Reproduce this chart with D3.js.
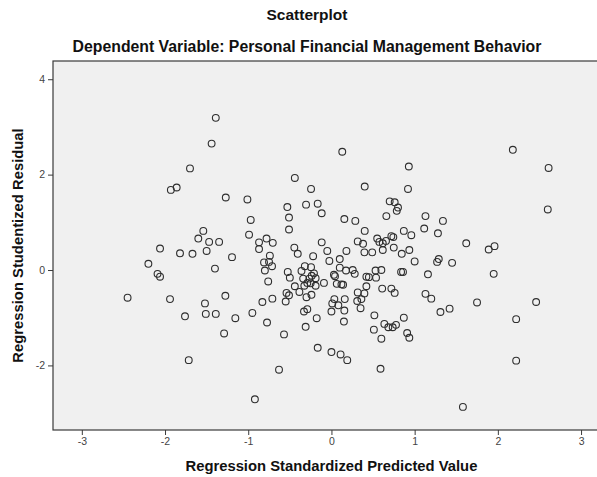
<!DOCTYPE html>
<html>
<head>
<meta charset="utf-8">
<script src="https://cdn.jsdelivr.net/npm/d3@7"></script>
<style>
  html, body { margin: 0; padding: 0; background: #ffffff; }
  svg { display: block; }
  text { font-family: Arial, "Liberation Sans", sans-serif; }
</style>
</head>
<body>
<svg id="chart" width="597" height="477"></svg>
<script>
// ---- Data ----
const title = "Scatterplot";
const subtitle = "Dependent Variable: Personal Financial Management Behavior";
const xTitle = "Regression Standardized Predicted Value";
const yTitle = "Regression Studentized Residual";
const xTicks = [-3, -2, -1, 0, 1, 2, 3];
const yTicks = [-2, 0, 2, 4];

const predicted = [
  -1.39, -1.44, -1.70, -1.93, -1.86, -1.27,
  0.13, 0.93, -0.44, -0.245, 0.40, 0.92, -1.01, -0.97, -0.53, -0.51, -0.305, -0.165, -0.117, 0.155,
  0.287, 0.70, 0.76, 0.80, 0.785, 0.66,
  2.18, 2.61, 2.60, 1.13, 1.34,
  1.115, 1.28, 1.62, 1.89, 1.96, 1.00, 1.27, 1.29, 1.45, 1.16, 1.95, 1.13, 1.20, 1.31, 1.42, 1.75,
  2.46, 2.22, 2.22, 1.58,
  -0.51, 0.40, 0.87, 0.96, -0.99, -0.78, -0.87, -0.705, -0.87, -0.446, -0.405, -0.22, -0.117, -0.05,
  0.18, 0.316, 0.38, 0.55, 0.576, 0.617, 0.72, 0.744, 0.656, 0.617, 0.749, 0.396, 0.49, 0.845, 0.936,
  -1.195, -0.74, -0.81, -0.75, -0.714, -0.80, -0.525, -0.76, -0.50, -0.36, -0.32, -0.245, -0.21,
  -0.237, -0.34, -0.265, -0.19, -0.29, -0.326, -0.19, -0.25, -0.44, -0.09, -0.385, -0.54, -0.51,
  -0.55, -0.30, -0.24, -0.71, -0.83, -1.275, -1.155, -0.95, -0.774, -0.57, -0.33, -0.29, -0.177,
  -0.31, 0.03, 0.043, 0.10, -0.025, 0.10, 0.175, 0.256, 0.28, 0.12, 0.14, 0.064, 0.035, 0.01, 0.083,
  0.16, 0.0, 0.155, 0.15, 0.42, 0.45, 0.536, 0.53, 0.60, 0.42, 0.316, 0.396, 0.31, 0.36, 0.35, 0.61,
  0.72, 0.76, 0.516, 0.87, 0.51, 0.636, 0.684, 0.736, 0.776, 0.60, 0.91, 0.936, -0.165, 0.0, 0.11,
  0.19, -0.63, 0.59, -0.92, 0.837, 0.86,
  -1.54, -1.60, -1.47, -1.35, -2.06, -1.82, -1.67, -1.50, -2.20, -2.09, -2.06, -1.40, -2.45, -1.94,
  -1.52, -1.51, -1.39, -1.76, -1.29, -1.715
];
const residual = [
  3.19, 2.65, 2.13, 1.68, 1.73, 1.52,
  2.48, 2.17, 1.93, 1.70, 1.75, 1.70, 1.48, 1.05, 1.32, 1.10, 1.37, 1.39, 1.19, 1.07,
  1.03, 1.44, 1.42, 1.31, 1.24, 1.13,
  2.52, 2.14, 1.27, 1.13, 1.03,
  0.87, 0.77, 0.56, 0.43, 0.50, 0.18, 0.17, 0.23, 0.15, -0.09, -0.08, -0.50, -0.60, -0.88, -0.81, -0.68,
  -0.67, -1.03, -1.90, -2.87,
  0.85, 0.82, 0.82, 0.73, 0.74, 0.66, 0.58, 0.57, 0.44, 0.47, 0.34, 0.29, 0.58, 0.40,
  0.40, 0.60, 0.55, 0.66, 0.59, 0.56, 0.71, 0.69, 0.61, 0.42, 0.47, 0.37, 0.37, 0.34, 0.42,
  0.27, 0.30, 0.16, 0.17, 0.08, -0.01, -0.04, -0.24, -0.16, -0.02, 0.08, 0.06, -0.07,
  -0.12, -0.18, -0.18, -0.17, -0.27, -0.33, -0.33, -0.28, -0.34, -0.27, -0.46, -0.48, -0.53,
  -0.66, -0.57, -0.52, -0.60, -0.67, -0.54, -1.01, -0.90, -1.10, -1.35, -0.87, -0.82, -1.01,
  -1.19, -0.10, -0.13, 0.23, 0.19, 0.05, -0.01, 0.0, -0.08, -0.30, -0.31, -0.29, -0.61, -0.70, -0.74,
  -0.61, -0.87, -0.85, -1.08, -0.14, -0.15, -0.16, -0.01, 0.0, -0.34, -0.47, -0.49, -0.65, -0.61, -0.80, -0.39,
  -0.39, -0.48, -0.95, -1.0, -1.25, -1.13, -1.20, -1.20, -1.15, -1.44, -1.32, -1.42, -1.63, -1.72, -1.77,
  -1.89, -2.09, -2.07, -2.71, -0.04, -0.04,
  0.82, 0.66, 0.59, 0.59, 0.45, 0.35, 0.34, 0.40, 0.13, -0.08, -0.14, 0.03, -0.58, -0.61,
  -0.70, -0.92, -0.92, -0.97, -1.33, -1.89
];

// ---- Layout ----
const svg = d3.select("#chart");
const W = 597, H = 477;
const plot = { left: 53, top: 61, right: 598, bottom: 430 };

const x = d3.scaleLinear().domain([-3.35, 3.2]).range([52.7, 597.7]);
const y = d3.scaleLinear().domain([-3.354, 4.38]).range([430, 61.1]);

svg.append("rect").attr("width", W).attr("height", H).attr("fill", "#ffffff");

// Plot background
svg.append("rect")
  .attr("x", plot.left).attr("y", plot.top)
  .attr("width", plot.right - plot.left).attr("height", plot.bottom - plot.top)
  .attr("fill", "#f0f0f0")
  .attr("stroke", "#3a3a3a").attr("stroke-width", 1.2);

// Points
const pts = predicted.map((p, i) => ({ p, r: residual[i] }));
svg.append("g").selectAll("circle").data(pts).enter().append("circle")
  .attr("cx", d => x(d.p)).attr("cy", d => y(d.r)).attr("r", 3.4)
  .attr("fill", "none").attr("stroke", "#2e2e2e").attr("stroke-width", 1.1);

// Axes
const xAxis = d3.axisBottom(x).tickValues(xTicks).tickSize(5).tickPadding(3).tickFormat(d3.format("d"));
const gx = svg.append("g").attr("transform", `translate(0,${plot.bottom})`).call(xAxis);
gx.select(".domain").remove();
gx.selectAll(".tick line").attr("stroke", "#3a3a3a");
gx.selectAll(".tick text").attr("font-size", 10.5).attr("fill", "#444")
  .attr("font-family", "Arial, 'Liberation Sans', sans-serif").text(d => d < 0 ? "-" + Math.abs(d) : d);

const yAxis = d3.axisLeft(y).tickValues(yTicks).tickSize(5).tickPadding(3).tickFormat(d3.format("d"));
const gy = svg.append("g").attr("transform", `translate(${plot.left},0)`).call(yAxis);
gy.select(".domain").remove();
gy.selectAll(".tick line").attr("stroke", "#3a3a3a");
gy.selectAll(".tick text").attr("font-size", 10.5).attr("fill", "#444")
  .attr("font-family", "Arial, 'Liberation Sans', sans-serif").text(d => d < 0 ? "-" + Math.abs(d) : d);

// Titles
svg.append("text").attr("x", 307).attr("y", 20).attr("text-anchor", "middle")
  .attr("font-size", 15.5).attr("font-weight", "bold").attr("fill", "#111").text(title);
svg.append("text").attr("x", 307).attr("y", 52).attr("text-anchor", "middle")
  .attr("font-size", 15.8).attr("font-weight", "bold").attr("fill", "#111").text(subtitle);
svg.append("text").attr("x", x(0)).attr("y", 471).attr("text-anchor", "middle")
  .attr("font-size", 14.8).attr("font-weight", "bold").attr("fill", "#111").text(xTitle);
svg.append("text").attr("transform", `translate(23,${(plot.top + plot.bottom) / 2}) rotate(-90)`)
  .attr("text-anchor", "middle")
  .attr("font-size", 14.8).attr("font-weight", "bold").attr("fill", "#111").text(yTitle);
</script>
</body>
</html>
